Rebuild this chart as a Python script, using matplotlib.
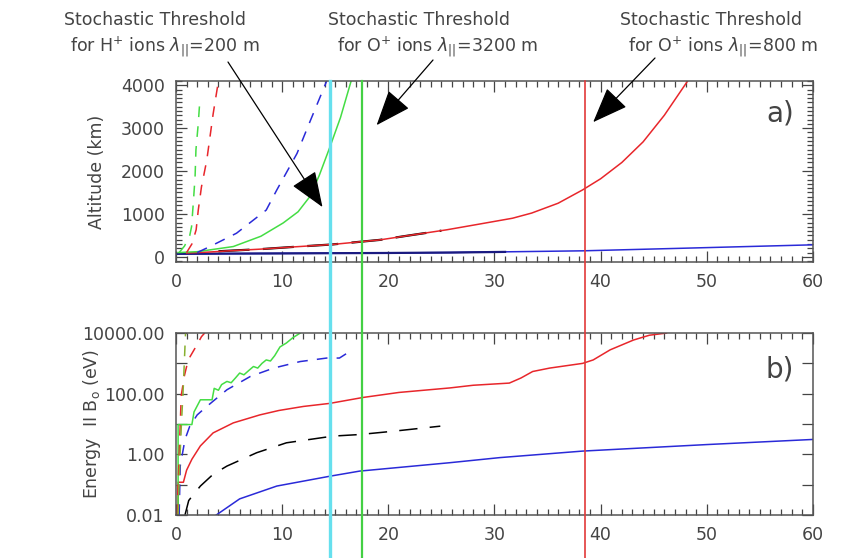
"""Altitude and parallel energy vs x, with stochastic-threshold markers."""
import numpy as np
import matplotlib
matplotlib.use("Agg")
import matplotlib.pyplot as plt
from matplotlib import transforms
from matplotlib.lines import Line2D
from matplotlib.ticker import MultipleLocator, FixedLocator, NullFormatter, FuncFormatter

# ---- panel a) altitude (km) ----
red_a_x = [1, 3, 5, 8, 11, 14.8, 17.3, 19.2, 22, 25.5, 28.5, 31.7, 33.5, 36, 38.3, 40, 42, 44, 46, 48.2]
red_a_y = [90, 110, 140, 180, 230, 290, 350, 395, 500, 630, 760, 900, 1020, 1250, 1560, 1820, 2200, 2680, 3300, 4100]
black_a_x = [4, 8, 11, 14.8, 17.3, 19.2, 22, 25]
black_a_y = [130, 180, 230, 290, 350, 395, 500, 610]
blue_a_x = [0, 10, 20, 25.8, 38.3, 47.7, 60]
blue_a_y = [70, 80, 90, 100, 140, 200, 280]
navy_a_x = [0, 10, 20, 25.8, 31]
navy_a_y = [70, 80, 90, 100, 115]
green_a_x = [0.2, 2, 5.4, 8, 10.1, 11.5, 12.6, 13.5, 14.5, 15.5, 16.5]
green_a_y = [100, 120, 240, 480, 790, 1050, 1400, 1900, 2560, 3250, 4100]
blue_d_a_x = [2, 3.2, 5.7, 8.5, 9.5, 11.4, 12.7, 14.2]
blue_d_a_y = [100, 240, 550, 1090, 1560, 2410, 3200, 4100]
green_d_a_x = [0.3, 0.8, 1.3, 1.47, 1.63, 1.8, 1.88, 2.1, 2.26]
green_d_a_y = [100, 250, 500, 705, 1250, 1870, 2490, 3110, 3690]
red_d_a_x = [1.0, 1.5, 1.9, 2.1, 2.4, 2.9, 3.2, 3.5, 4.0]
red_d_a_y = [100, 300, 630, 1090, 1630, 2250, 2790, 3330, 4100]

# ---- panel b) energy parallel to B (eV) ----
red_b_x = [0.2, 0.2, 0.7, 1.0, 1.5, 2.3, 3.5, 5.4, 7.9, 9.7, 12, 14.5, 17.6, 21, 25.8, 28,
           31.4, 32.5, 33.6, 35.2, 38.3, 39.3, 40.9, 43.1, 44.6, 46.2]
red_b_y = [0.01, 0.12, 0.12, 0.3, 0.69, 1.9, 5.1, 10.9, 20, 28, 38, 48, 75, 110, 155, 190,
           224, 330, 540, 700, 1000, 1300, 2800, 5900, 8500, 10000]
black_b_x = [0.85, 1.2, 2.3, 3.5, 4.8, 7.6, 10.4, 14.8, 17.3, 20.5, 24.9]
black_b_y = [0.01, 0.03, 0.09, 0.22, 0.41, 1.13, 2.4, 4.0, 4.5, 5.8, 8.5]
blue_b_x = [3.8, 6.0, 9.5, 14.5, 17.3, 25.8, 30.5, 38.3, 50, 60]
blue_b_y = [0.01, 0.034, 0.09, 0.19, 0.28, 0.53, 0.78, 1.28, 2.1, 3.1]
green_b_x = [0.2, 0.2, 1.5, 1.7, 2.3, 3.4, 3.6, 4.0, 4.3, 4.8, 5.2, 5.6, 6.0, 6.4, 6.9,
             7.3, 7.7, 8.1, 8.5, 8.9, 9.3, 9.8, 10.4, 11.0, 11.7]
green_b_y = [0.01, 9.6, 9.6, 25, 63, 63, 150, 130, 200, 254, 230, 330, 480, 420, 600,
             790, 700, 1000, 1300, 1200, 1800, 3500, 4700, 7000, 10000]
blue_d_b_x = [0.3, 0.4, 0.85, 1.3, 2.0, 2.9, 4.8, 7.0, 9.2, 11.7, 14.2, 15.4, 16.1, 16.5]
blue_d_b_y = [0.01, 0.41, 3.1, 8.5, 20, 38, 135, 370, 700, 1150, 1500, 1500, 2150, 2800]
red_d_b_x = [0.1, 0.3, 0.5, 0.8, 1.15, 1.8, 2.4, 2.7]
red_d_b_y = [0.01, 1, 90, 400, 1300, 3200, 7600, 10000]
green_d_b_x = [0.2, 0.35, 0.5, 0.7, 0.9]
green_d_b_y = [0.01, 0.5, 8, 200, 10000]

# ---- stochastic thresholds ----
thr_x = [14.5, 17.5, 38.5]
thr_colors = ["#66e0ee", "#44d044", "#e23a3a"]
thr_widths = [2.4, 1.6, 1.2]
thr_text1 = ["Stochastic Threshold", "Stochastic Threshold", "Stochastic Threshold"]
thr_text2 = [r"for H$^{+}$ ions $\lambda_{||}$=200 m",
             r"for O$^{+}$ ions $\lambda_{||}$=3200 m",
             r"for O$^{+}$ ions $\lambda_{||}$=800 m"]
arrow_tips = [(13.8, 1160), (18.9, 3070), (39.3, 3140)]

RED, GREEN, BLUE, NAVY = "#e8262b", "#44dd44", "#2a2ad8", "#1a1a80"
GREY = "#444444"

plt.rcParams["font.family"] = "DejaVu Sans"
plt.rcParams["mathtext.fontset"] = "dejavusans"

fig = plt.figure(figsize=(8.44, 5.58), dpi=100)
ax1 = fig.add_axes([0.2085, 0.5305, 0.7547, 0.3244])
ax2 = fig.add_axes([0.2085, 0.0771, 0.7547, 0.326])

lw = 1.1
ax1.plot(blue_a_x, blue_a_y, color=BLUE, lw=lw)
ax1.plot(navy_a_x, navy_a_y, color=NAVY, lw=1.6)
ax1.plot(black_a_x, black_a_y, color="black", lw=1.6, dashes=(14, 6))
ax1.plot(red_a_x, red_a_y, color=RED, lw=lw)
ax1.plot(green_a_x, green_a_y, color=GREEN, lw=lw)
ax1.plot(blue_d_a_x, blue_d_a_y, color=BLUE, lw=lw, dashes=(7, 6))
ax1.plot(green_d_a_x, green_d_a_y, color=GREEN, lw=lw, dashes=(7, 6))
ax1.plot(red_d_a_x, red_d_a_y, color=RED, lw=lw, dashes=(7, 6))

ax2.plot(blue_b_x, blue_b_y, color=BLUE, lw=lw)
ax2.plot(black_b_x, black_b_y, color="black", lw=lw, dashes=(12, 8))
ax2.plot(red_b_x, red_b_y, color=RED, lw=lw)
ax2.plot(green_b_x, green_b_y, color=GREEN, lw=lw)
ax2.plot(blue_d_b_x, blue_d_b_y, color=BLUE, lw=lw, dashes=(7, 6))
ax2.plot(red_d_b_x, red_d_b_y, color=RED, lw=lw, dashes=(7, 6))
ax2.plot(green_d_b_x, green_d_b_y, color="#88b030", lw=lw, dashes=(7, 6))

ax1.set_xlim(0, 60)
ax1.set_ylim(-120, 4100)
ax2.set_xlim(0, 60)
ax2.set_yscale("log")
ax2.set_ylim(0.01, 10000)

for ax in (ax1, ax2):
    ax.set_xticks([0, 10, 20, 30, 40, 50, 60])
    ax.xaxis.set_minor_locator(MultipleLocator(1))
    ax.tick_params(which="both", direction="in", top=True, right=True,
                   colors=GREY, labelsize=12.5, width=0.9)
    ax.tick_params(which="major", length=8, pad=8)
    ax.tick_params(which="minor", length=4)
    for s in ax.spines.values():
        s.set_color("#555555")
        s.set_linewidth(1.1)

ax1.set_yticks([0, 1000, 2000, 3000, 4000])
ax1.yaxis.set_minor_locator(MultipleLocator(100))
ax2.set_yticks([0.01, 1, 100, 10000])
ax2.yaxis.set_major_formatter(FuncFormatter(lambda v, p: f"{v:.2f}"))
ax2.yaxis.set_minor_locator(FixedLocator([0.1, 10, 1000]))
ax2.yaxis.set_minor_formatter(NullFormatter())
ax2.tick_params(axis="y", which="minor", length=8)

ax1.set_ylabel("Altitude (km)", fontsize=12.5, color=GREY)
ax1.yaxis.set_label_coords(-0.11, 0.5)
ax2.set_ylabel(r"Energy  II B$_{\rm o}$ (eV)", fontsize=12.5, color=GREY)
ax2.yaxis.set_label_coords(-0.115, 0.5)

ax1.text(0.948, 0.82, "a)", transform=ax1.transAxes, fontsize=20, color=GREY,
         ha="center", va="center")
ax2.text(0.948, 0.80, "b)", transform=ax2.transAxes, fontsize=20, color=GREY,
         ha="center", va="center")

# threshold lines run from the top of panel a) down to the bottom of the figure
top = ax1.get_position().y1
for xv, c, w in zip(thr_x, thr_colors, thr_widths):
    tr = transforms.blended_transform_factory(ax1.transData, fig.transFigure)
    fig.add_artist(Line2D([xv, xv], [0, top], transform=tr, color=c, lw=w, zorder=5))

# labels and arrows
text_cx1 = [155, 419, 711]
text_cx2 = [165, 438, 723]
arrow_start = [(228, 62), (433, 60), (655, 58)]
H = 558
for t1, t2, c1, c2, tip, st in zip(thr_text1, thr_text2, text_cx1, text_cx2,
                                  arrow_tips, arrow_start):
    fig.text(c1, H - 20, t1, transform=None, ha="center", va="center",
             fontsize=12.5, color=GREY)
    fig.text(c2, H - 47, t2, transform=None, ha="center", va="center",
             fontsize=12.5, color=GREY)
    ax1.annotate("", xy=tip, xycoords="data", xytext=(st[0], H - st[1]),
                 textcoords="figure pixels", annotation_clip=False,
                 arrowprops=dict(arrowstyle="-|>,head_length=0.9,head_width=0.35",
                                 mutation_scale=25, color="black", lw=0.9,
                                 shrinkA=0, shrinkB=0))

fig.savefig("out.png", dpi=100)
